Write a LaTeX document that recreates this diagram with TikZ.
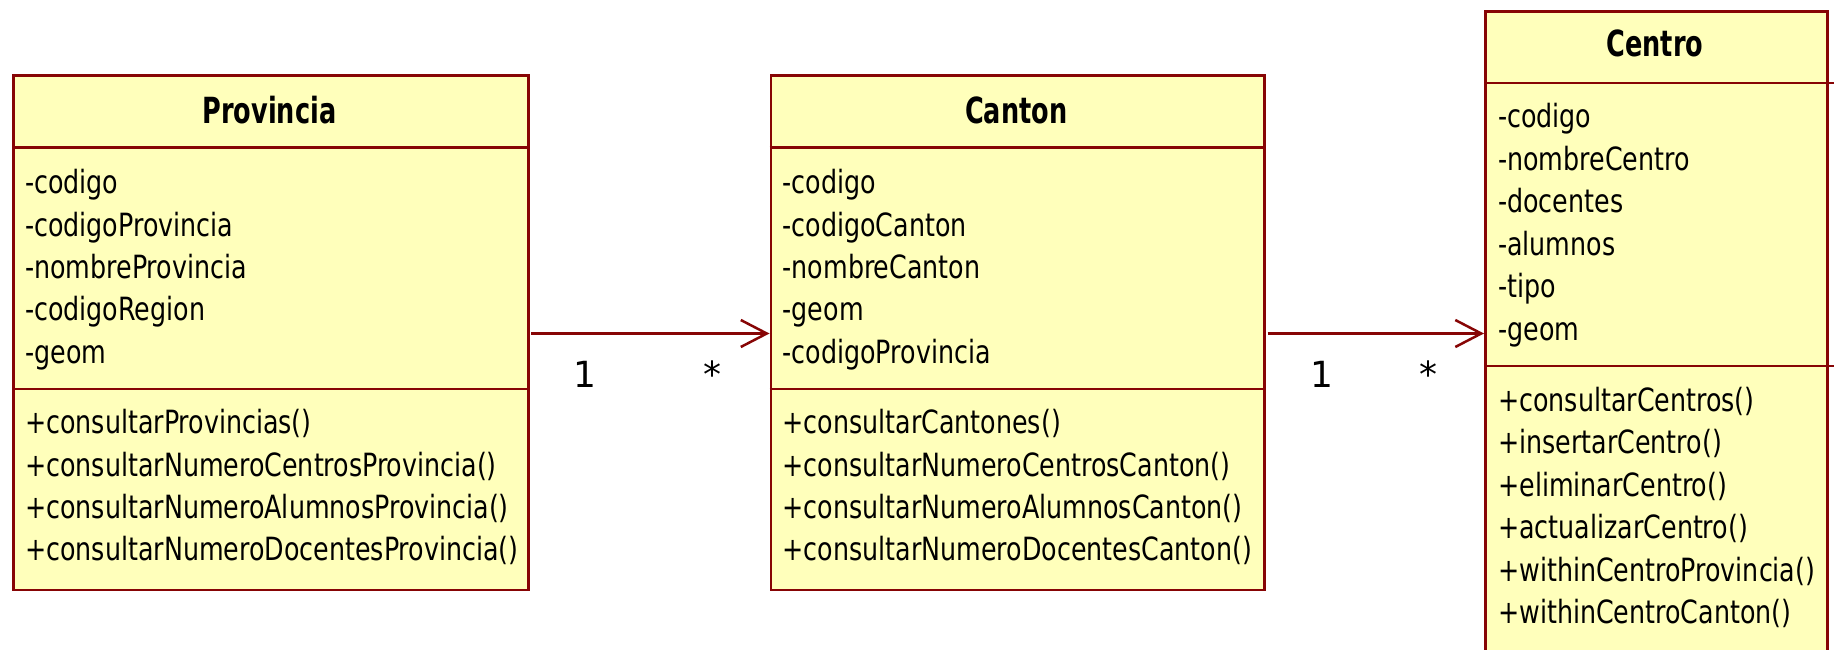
\documentclass[tikz,border=0pt]{standalone}
\usepackage{fontspec}
\setmainfont{DejaVu Sans Condensed}
\newfontfamily\multfont{DejaVu Sans}
\usetikzlibrary{arrows.meta}
\definecolor{umlborder}{RGB}{135,5,5}
\definecolor{umlfill}{RGB}{255,255,187}
\tikzset{
  classbox/.style={draw=umlborder, fill=umlfill, line width=2.7pt, inner sep=0pt,
    anchor=north west, rectangle},
  sepline/.style={draw=umlborder, line width=2.7pt},
  classname/.style={anchor=base, inner sep=0pt,
    font=\fontsize{36}{42}\selectfont\bfseries},
  member/.style={anchor=base west, inner sep=0pt, font=\fontsize{32}{38}\selectfont},
  mult/.style={anchor=base, inner sep=0pt, font=\multfont\fontsize{36}{42}\selectfont},
  assoc/.style={draw=umlborder, line width=2.5pt,
    -{Straight Barb[length=26pt, width=27pt]}}
}
% narrow set of the class names and members
\newcommand{\cname}[1]{\scalebox{0.79}[1]{#1}}
\newcommand{\mtext}[1]{\scalebox{0.88}[1]{#1}}
\begin{document}
\begin{tikzpicture}[x=1pt, y=-1pt]
\useasboundingbox (0,0) rectangle (1834,650);
\clip (0,0) rectangle (1834,650);

% ---- Provincia ----
\node[classbox, minimum width=515pt, minimum height=514pt] (prov) at (12,74.5) {};
\draw[sepline] (prov.west |- 0,147.8) -- (530,147.8);
\draw[sepline] (prov.west |- 0,388.9) -- (530,388.9);
\node[classname] (provname) at (269.5,123.3) {\cname{Provincia}};
\foreach \t [count=\i] in {-codigo,-codigoProvincia,-nombreProvincia,-codigoRegion,-geom}
  \node[member] (provattr\i) at ({25},{193.8+42.35*(\i-1)}) {\mtext{\t}};
\foreach \t [count=\i] in {+consultarProvincias(),+consultarNumeroCentrosProvincia(),
    +consultarNumeroAlumnosProvincia(),+consultarNumeroDocentesProvincia()}
  \node[member] (provop\i) at ({25},{433.6+42.4*(\i-1)}) {\mtext{\t}};

% ---- Canton ----
\node[classbox, minimum width=493.5pt, minimum height=514pt] (can) at (769.5,74.5) {};
\draw[sepline] (can.west |- 0,147.8) -- (1266,147.8);
\draw[sepline] (can.west |- 0,388.9) -- (1266,388.9);
\node[classname] (canname) at (1016.3,123.3) {\cname{Canton}};
\foreach \t [count=\i] in {-codigo,-codigoCanton,-nombreCanton,-geom,-codigoProvincia}
  \node[member] (canattr\i) at ({782.5},{193.8+42.35*(\i-1)}) {\mtext{\t}};
\foreach \t [count=\i] in {+consultarCantones(),+consultarNumeroCentrosCanton(),
    +consultarNumeroAlumnosCanton(),+consultarNumeroDocentesCanton()}
  \node[member] (canop\i) at ({782.5},{433.6+42.4*(\i-1)}) {\mtext{\t}};

% ---- Centro ----
\node[classbox, minimum width=342pt, minimum height=700pt] (cen) at (1484,10) {};
\draw[sepline] (cen.west |- 0,83) -- (1834,83);
\draw[sepline] (cen.west |- 0,366) -- (1834,366);
\node[classname] (cenname) at (1655,57) {\cname{Centro}};
\foreach \t [count=\i] in {-codigo,-nombreCentro,-docentes,-alumnos,-tipo,-geom}
  \node[member] (cenattr\i) at ({1498},{128+42.4*(\i-1)}) {\mtext{\t}};
\foreach \t [count=\i] in {+consultarCentros(),+insertarCentro(),+eliminarCentro(),
    +actualizarCentro(),+withinCentroProvincia(),+withinCentroCanton()}
  \node[member] (cenop\i) at ({1498},{411.5+42.4*(\i-1)}) {\mtext{\t}};

% ---- associations ----
\coordinate (provout) at (531,333.5);
\draw[assoc] (provout) -- (provout -| can.west);
\node[mult] (provmult) at (585,387) {1};
\node[mult] (canmulta) at (712.7,387) {*};

\coordinate (canout) at (1267.5,333.5);
\draw[assoc] (canout) -- (canout -| cen.west);
\node[mult] (canmultb) at (1321.5,387) {1};
\node[mult] (cenmult) at (1428,387) {*};
\end{tikzpicture}
\end{document}
